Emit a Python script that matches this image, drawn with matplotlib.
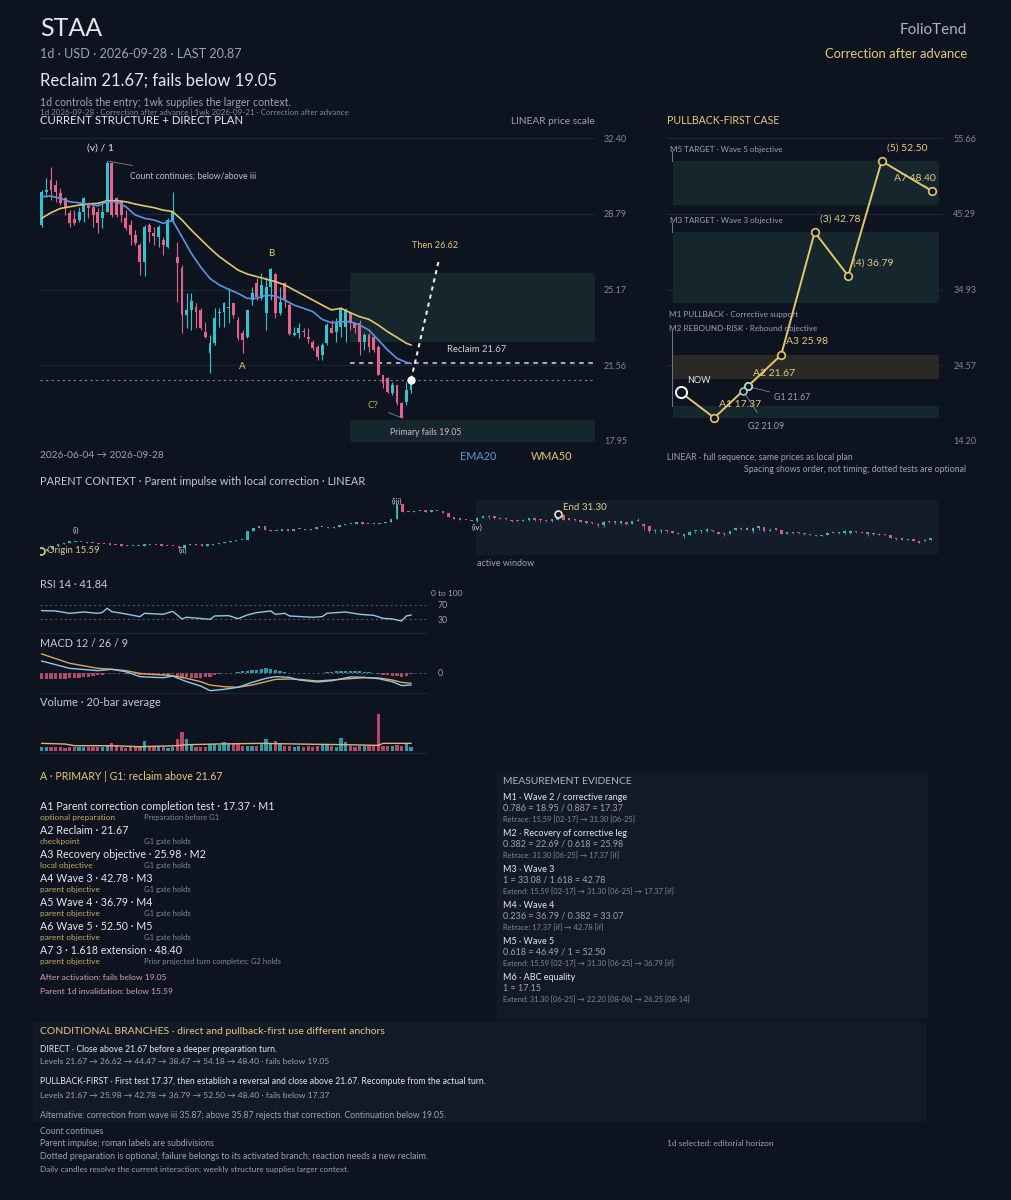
import numpy as np
import matplotlib
matplotlib.use("Agg")
from matplotlib import pyplot as plt
from matplotlib.patches import Rectangle

plt.rcParams['font.family'] = ['Lato', 'DejaVu Sans']

# colours
BG = '#0d141f'
PANEL = '#111a26'
GRID = '#1d2734'
TXT = '#e4e8ee'
DIM = '#9aa4b3'
DIM2 = '#7f8999'
GOLD = '#e8c87c'
GOLD2 = '#c9a963'
CYAN = '#33c2cf'
PINK = '#e5628a'
BLUE = '#5d93e6'
YEL = '#e3c66c'
ZONE = '#16262d'
ZONE_BROWN = '#2a2925'

# ---- daily candles 2026-06-04 -> 2026-09-28 ----
opens = [28.25, 29.84, 30.40, 30.16, 29.76, 29.52, 28.81, 28.52, 28.49, 28.89,
         29.28, 29.12, 28.89, 28.57, 28.89, 31.19, 29.52, 29.36, 28.57, 28.25,
         27.77, 27.30, 26.50, 28.25, 27.85, 27.69, 27.53, 27.22, 28.49, 26.74,
         26.18, 23.96, 24.20, 24.35, 24.20, 23.16, 22.13, 22.61, 24.07, 24.12,
         24.28, 24.51, 23.72, 23.08, 22.92, 24.67, 25.47, 24.75, 24.04, 25.31,
         25.91, 24.04, 25.47, 24.43, 23.00, 23.08, 23.20, 22.92, 22.69, 22.45,
         22.05, 22.61, 23.32, 23.16, 23.40, 23.40, 24.04, 23.56, 23.56, 22.69,
         23.00, 22.92, 22.45, 21.10, 20.94, 20.22, 20.62, 19.74, 19.82, 20.38]
closes = [29.84, 29.92, 29.92, 29.84, 29.28, 29.12, 28.33, 28.33, 28.89, 29.52,
          29.04, 28.73, 28.33, 28.89, 31.19, 28.73, 28.73, 28.73, 28.09, 27.77,
          27.37, 26.50, 28.17, 27.93, 27.72, 28.17, 27.30, 28.49, 28.89, 26.42,
          23.96, 24.20, 24.64, 24.12, 23.32, 22.92, 22.61, 23.80, 24.12, 24.51,
          24.35, 23.96, 22.84, 22.77, 24.20, 25.02, 24.83, 25.39, 25.31, 26.14,
          24.04, 24.59, 24.67, 23.05, 23.08, 23.32, 23.14, 22.80, 22.37, 21.97,
          22.53, 23.48, 23.08, 23.56, 24.28, 24.20, 23.56, 23.32, 22.69, 23.00,
          22.45, 22.29, 21.10, 20.70, 20.30, 20.62, 19.74, 19.05, 20.38, 20.87]
highs = [29.92, 30.47, 31.03, 30.40, 30.00, 29.60, 28.96, 28.96, 29.12, 29.60,
         29.36, 29.36, 29.04, 29.36, 31.30, 31.25, 29.60, 29.44, 28.96, 28.49,
         28.01, 27.37, 28.25, 28.33, 28.17, 28.25, 27.69, 28.57, 29.84, 27.45,
         26.34, 24.99, 24.99, 24.51, 24.28, 23.64, 23.00, 24.28, 24.28, 24.59,
         25.23, 24.51, 23.88, 23.24, 24.20, 25.31, 25.71, 25.94, 25.79, 26.18,
         25.94, 25.31, 25.55, 24.51, 23.40, 23.56, 23.32, 23.32, 22.77, 22.53,
         22.61, 23.56, 23.72, 23.80, 24.35, 24.28, 24.12, 23.64, 23.72, 23.08,
         23.08, 23.00, 22.53, 21.10, 21.02, 20.78, 20.62, 19.82, 20.78, 20.90]
lows = [28.17, 29.60, 29.44, 29.36, 29.20, 28.73, 28.17, 28.25, 28.41, 28.41,
        28.57, 28.17, 27.85, 28.09, 28.89, 28.65, 28.65, 28.41, 28.01, 27.30,
        27.30, 25.86, 25.83, 27.45, 27.30, 27.22, 26.82, 27.14, 28.41, 24.59,
        23.08, 23.32, 23.24, 23.32, 23.24, 22.84, 21.17, 22.53, 23.40, 23.40,
        23.56, 23.80, 22.77, 22.16, 22.84, 24.43, 24.67, 24.67, 23.24, 24.67,
        23.80, 23.96, 24.35, 23.00, 22.98, 22.84, 22.92, 22.61, 22.29, 21.81,
        21.81, 22.53, 23.08, 22.69, 22.92, 22.69, 23.24, 23.08, 22.05, 22.29,
        22.21, 22.21, 21.10, 20.46, 20.22, 20.14, 19.66, 19.05, 19.66, 20.22]

# moving averages read every second bar
ma_idx = list(range(0, 80, 2)) + [79]
ema20 = [29.60, 29.63, 29.52, 29.36, 29.31, 29.25, 29.16, 29.36, 29.36, 29.12,
         28.73, 28.57, 28.49, 28.33, 28.46, 27.69, 26.90, 26.25, 25.70, 25.39,
         25.18, 24.99, 24.75, 24.75, 24.91, 24.86, 24.67, 24.43, 24.28, 24.12,
         23.75, 23.59, 23.64, 23.64, 23.48, 23.24, 22.77, 22.29, 21.89, 21.70, 21.65]
wma50 = [28.57, 28.84, 29.04, 29.12, 29.20, 29.25, 29.28, 29.41, 29.41, 29.36,
         29.25, 29.16, 29.08, 28.96, 28.89, 28.49, 28.01, 27.57, 27.14, 26.74,
         26.42, 26.10, 25.91, 25.79, 25.67, 25.55, 25.39, 25.15, 24.91, 24.67,
         24.43, 24.20, 24.28, 24.07, 23.88, 23.75, 23.48, 23.16, 22.89, 22.61, 22.53]

rsi_idx = [0, 3, 6, 9, 12, 13, 14, 15, 18, 21, 22, 26, 28, 29, 30, 31, 36, 37, 40,
           42, 44, 46, 49, 50, 52, 53, 58, 60, 61, 65, 68, 71, 73, 75, 77, 78, 79]
rsi14 = [54.2, 53.2, 46.7, 50.4, 46.7, 49.5, 60.7, 51.4, 44.9, 37.4, 46.7, 43.9,
         52.3, 42.1, 30.9, 35.6, 30.0, 39.3, 40.2, 31.8, 42.1, 48.6, 53.2, 43.9,
         46.7, 39.3, 35.6, 37.4, 46.7, 50.4, 43.9, 41.1, 32.8, 30.9, 25.3, 39.3, 41.84]

macd_idx = [0, 6, 12, 15, 18, 21, 24, 26, 28, 31, 34, 36, 39, 42, 45, 48, 50, 53,
            55, 59, 62, 66, 69, 72, 75, 77, 79]
macd_line = [0.97, 0.36, 0.17, 0.28, 0.08, -0.33, -0.39, -0.42, -0.28, -0.75, -1.11,
             -1.50, -1.39, -1.22, -0.81, -0.47, -0.33, -0.39, -0.61, -0.78, -0.67,
             -0.36, -0.39, -0.50, -0.75, -1.08, -1.03]
signal_line = [1.56, 0.78, 0.36, 0.28, 0.17, -0.06, -0.15, -0.19, -0.25, -0.47, -0.75,
               -1.03, -1.17, -1.22, -1.03, -0.75, -0.56, -0.53, -0.56, -0.69, -0.61,
               -0.50, -0.42, -0.44, -0.61, -0.81, -0.89]
macd_hist = [-0.56, -0.55, -0.55, -0.53, -0.52, -0.50, -0.48, -0.45, -0.42, -0.38,
             -0.33, -0.28, -0.22, -0.18, -0.02, 0.00, -0.03, -0.05, -0.08, -0.12,
             -0.15, -0.18, -0.18, -0.20, -0.20, -0.18, -0.18, -0.16, -0.12, -0.25,
             -0.35, -0.38, -0.42, -0.45, -0.45, -0.40, -0.35, -0.22, -0.10, -0.04,
             -0.02, 0.00, 0.02, 0.10, 0.16, 0.20, 0.25, 0.30, 0.38, 0.30,
             0.22, 0.12, 0.05, -0.03, -0.05, -0.05, -0.06, -0.06, -0.05, -0.03,
             -0.02, 0.02, 0.06, 0.10, 0.14, 0.16, 0.16, 0.14, 0.10, 0.06,
             0.02, -0.04, -0.10, -0.16, -0.22, -0.26, -0.30, -0.32, -0.25, -0.14]

volume_k = [230, 260, 240, 210, 230, 200, 220, 230, 250, 210, 230, 250, 220, 240,
            330, 480, 370, 220, 200, 230, 210, 250, 600, 230, 210, 240, 220, 200,
            250, 780, 1190, 760, 370, 260, 250, 270, 430, 430, 370, 585, 480, 520,
            480, 320, 330, 300, 320, 520, 760, 430, 630, 430, 300, 330, 250, 280,
            260, 290, 250, 300, 370, 400, 280, 260, 820, 585, 320, 260, 320, 300,
            330, 310, 2380, 320, 310, 320, 340, 330, 520, 260]
vol_avg_idx = [0, 5, 7, 15, 21, 29, 31, 37, 47, 55, 65, 72, 73, 79]
vol_avg_k = [477, 433, 325, 325, 260, 325, 390, 433, 477, 433, 390, 347, 477, 477]

# parent context: daily closes 2026-02-17 -> 2026-06-03 (before the active window)
pre_closes = [15.59, 16.4, 17.5, 18.6, 19.2, 19.4, 19.6, 19.4, 19.0, 19.0,
              18.6, 18.4, 18.3, 18.0, 17.8, 17.7, 17.7, 17.9, 18.1, 18.3,
              18.0, 17.9, 17.6, 17.5, 17.0, 18.2, 18.4, 18.0, 17.8, 18.0,
              18.4, 18.9, 19.3, 19.8, 20.2, 20.2, 24.0, 25.5, 26.2, 24.5,
              24.2, 24.3, 24.4, 24.3, 25.0, 24.8, 24.6, 25.0, 25.8, 25.9,
              25.5, 25.9, 26.6, 27.0, 27.3, 27.4, 27.3, 27.0, 27.2, 27.5,
              28.0, 29.2, 35.5, 32.4, 32.3, 32.5, 32.7, 32.4, 32.5, 32.9,
              31.8, 30.0, 29.3, 29.0, 28.8, 28.5]
parent_labels = ['(i)', '(ii)', '(iii)', '(iv)']
parent_label_bar = [6, 24, 62, 76]

# pullback-first plan
plan_names = ['NOW', 'A1', 'A2', 'A3', '(3)', '(4)', '(5)', 'A7']
plan_prices = [20.87, 17.37, 21.67, 25.98, 42.78, 36.79, 52.50, 48.40]
g1_price, g2_price = 21.67, 21.09
zones = [(17.37, 18.95, 'M1'), (22.69, 25.98, 'M2'), (33.08, 42.78, 'M3'), (46.49, 52.50, 'M5')]
main_ticks = [17.95, 21.56, 25.17, 28.79, 32.40]
plan_ticks = [14.20, 24.57, 34.93, 45.29, 55.66]
last_price, reclaim, fail_level, then_target = 20.87, 21.67, 19.05, 26.62

plan_rows = [
    ('A1 Parent correction completion test · 17.37 · M1', 'optional preparation', 'Preparation before G1'),
    ('A2 Reclaim · 21.67', 'checkpoint', 'G1 gate holds'),
    ('A3 Recovery objective · 25.98 · M2', 'local objective', 'G1 gate holds'),
    ('A4 Wave 3 · 42.78 · M3', 'parent objective', 'G1 gate holds'),
    ('A5 Wave 4 · 36.79 · M4', 'parent objective', 'G1 gate holds'),
    ('A6 Wave 5 · 52.50 · M5', 'parent objective', 'G1 gate holds'),
    ('A7 3 · 1.618 extension · 48.40', 'parent objective', 'Prior projected turn completes; G2 holds'),
]
evidence = [
    ('M1 · Wave 2 / corrective range', '0.786 = 18.95 / 0.887 = 17.37', 'Retrace: 15.59 [02-17] → 31.30 [06-25]'),
    ('M2 · Recovery of corrective leg', '0.382 = 22.69 / 0.618 = 25.98', 'Retrace: 31.30 [06-25] → 17.37 [if]'),
    ('M3 · Wave 3', '1 = 33.08 / 1.618 = 42.78', 'Extend: 15.59 [02-17] → 31.30 [06-25] → 17.37 [if]'),
    ('M4 · Wave 4', '0.236 = 36.79 / 0.382 = 33.07', 'Retrace: 17.37 [if] → 42.78 [if]'),
    ('M5 · Wave 5', '0.618 = 46.49 / 1 = 52.50', 'Extend: 15.59 [02-17] → 31.30 [06-25] → 36.79 [if]'),
    ('M6 · ABC equality', '1 = 17.15', 'Extend: 31.30 [06-25] → 22.20 [08-06] → 26.25 [08-14]'),
]

W, H = 1011, 1200
fig = plt.figure(figsize=(W / 100, H / 100), dpi=100, facecolor=BG)


def box(l, t, r, b):
    return [l / W, 1 - b / H, (r - l) / W, (b - t) / H]


def txt(x, y, s, **kw):
    kw.setdefault('va', 'center')
    kw.setdefault('color', TXT)
    return fig.text(x / W, 1 - y / H, s, **kw)


def panel(l, t, r, b, color=PANEL):
    fig.patches.append(Rectangle((l / W, 1 - b / H), (r - l) / W, (b - t) / H,
                                 transform=fig.transFigure, color=color, zorder=0))


def clean(ax):
    ax.set_facecolor('none')
    for s in ax.spines.values():
        s.set_visible(False)
    ax.tick_params(left=False, bottom=False, labelbottom=False, labelleft=False)


def candles(ax, x, o, h, l, c, width, minh, wick=0.8, alpha=1.0):
    o, h, l, c = map(np.asarray, (o, h, l, c))
    cols = np.where(c >= o, CYAN, PINK)
    ax.vlines(x, l, h, colors=cols, lw=wick, alpha=alpha)
    ax.bar(x, np.maximum(np.abs(c - o), minh), width, bottom=np.minimum(o, c),
           color=cols, lw=0, alpha=alpha)


# ---------- header ----------
txt(40, 28, 'STAA', fontsize=18)
txt(40, 54, '1d · USD · 2026-09-28 · LAST 20.87', fontsize=9.1, color=DIM)
txt(40, 81, 'Reclaim 21.67; fails below 19.05', fontsize=12)
txt(40, 102, '1d controls the entry; 1wk supplies the larger context.', fontsize=7.6, color=DIM)
txt(40, 112.5, '1d 2026-09-28 · Correction after advance | 1wk 2026-09-21 · Correction after advance',
    fontsize=5.8, color=DIM2)
txt(967, 30, 'FolioTend', fontsize=11, color='#aab3c0', ha='right')
txt(967, 54, 'Correction after advance', fontsize=9.4, color=GOLD, ha='right')
txt(40, 121, 'CURRENT STRUCTURE + DIRECT PLAN', fontsize=8.2)
txt(595, 121, 'LINEAR price scale', fontsize=7.3, color=DIM, ha='right')
txt(667, 121, 'PULLBACK-FIRST CASE', fontsize=7.6, color=GOLD)

# ---------- main chart ----------
n = len(closes)
xi = np.arange(n)
step = 4.675
ax = fig.add_axes(box(40, 138, 595, 441))
clean(ax)
ax.set_xlim(-1.7 / step, (595 - 41.7) / step)
ax.set_ylim(main_ticks[0], main_ticks[-1])
for t in main_ticks:
    ax.axhline(t, color=GRID, lw=0.8, zorder=0)
ax.yaxis.tick_right()
ax.set_yticks(main_ticks, [f'{t:.2f}' for t in main_ticks])
ax.tick_params(axis='y', right=False, labelright=True, labelsize=6.5, labelcolor=DIM2, pad=3)

zone_x0 = 65.9
x_right = ax.get_xlim()[1]
for lo, hi, name in zones:
    if name in ('M1', 'M2'):
        ax.fill_between([zone_x0, x_right], lo, hi, color=ZONE, lw=0, zorder=0.5)
ax.plot([zone_x0, x_right], [reclaim, reclaim], color='#d5dbe3', lw=1.1, dashes=(3, 3), zorder=1)
ax.axhline(last_price, color='#7c8695', lw=0.8, dashes=(2, 3), zorder=1)

candles(ax, xi, opens, highs, lows, closes, 0.62, 0.05)
ax.plot(ma_idx, wma50, color=YEL, lw=1.2, zorder=3)
ax.plot(ma_idx, ema20, color=BLUE, lw=1.2, zorder=3)

proj_bar = 85
ax.plot([n - 1, proj_bar], [last_price, then_target], color='#f2ead2', lw=1.5, dashes=(2, 2), zorder=4)
ax.plot([n - 1], [last_price], 'o', ms=5, color='white', zorder=5)

ann = dict(textcoords='offset pixels', va='center')
ax.annotate('(v) / 1', (14, highs[14]), xytext=(-7, 13), ha='center', fontsize=7.5, color=TXT, **ann)
ax.annotate('Count continues; below/above iii', (14, highs[14]), xytext=(23, -15), ha='left',
            fontsize=6.2, color='#c9bccb',
            arrowprops=dict(arrowstyle='-', color=DIM2, lw=0.6, shrinkA=14, shrinkB=1), **ann)
ax.annotate('B', (49, highs[49]), xytext=(0, 15), ha='center', fontsize=7, color=GOLD, **ann)
ax.annotate('A', (43, lows[43]), xytext=(0, -14), ha='center', fontsize=7, color=GOLD, **ann)
ax.annotate('C?', (77, lows[77]), xytext=(-29, 12), ha='center', fontsize=7, color=GOLD2,
            arrowprops=dict(arrowstyle='-', color=DIM2, lw=0.6, shrinkA=6, shrinkB=1), **ann)
ax.annotate(f'Then {then_target:.2f}', (proj_bar, then_target), xytext=(-4, 14), ha='center',
            fontsize=6.6, color=GOLD, **ann)
ax.annotate(f'Reclaim {reclaim:.2f}', (86.7, reclaim), xytext=(0, 13), ha='left',
            fontsize=6.8, color='#c9ced6', **ann)
ax.annotate(f'Primary fails {fail_level:.2f}', (74.5, fail_level), xytext=(0, -15), ha='left',
            fontsize=6.2, color='#c9bccb', **ann)

txt(40, 455, '2026-06-04 → 2026-09-28', fontsize=7.3, color=DIM)
txt(478, 456, 'EMA20', fontsize=7.8, color=BLUE, ha='center')
txt(552, 456, 'WMA50', fontsize=7.8, color=YEL, ha='center')

# ---------- pullback-first panel ----------
unit = 33.5
axp = fig.add_axes(box(667, 138, 943, 441))
clean(axp)
axp.set_xlim(-(680.7 - 667) / unit, (943 - 680.7) / unit)
axp.set_ylim(plan_ticks[0], plan_ticks[-1])
for t in plan_ticks:
    axp.axhline(t, color=GRID, lw=0.8, zorder=0)
axp.yaxis.tick_right()
axp.set_yticks(plan_ticks, [f'{t:.2f}' for t in plan_ticks])
axp.tick_params(axis='y', right=False, labelright=True, labelsize=6.5, labelcolor=DIM2, pad=4)

zx0, zx1 = -0.24, 7.71
for lo, hi, name in zones:
    axp.fill_between([zx0, zx1], lo, hi, color=ZONE_BROWN if name == 'M2' else ZONE, lw=0, zorder=0.5)

zone_text = {'M5': 'M5 TARGET · Wave 5 objective', 'M3': 'M3 TARGET · Wave 3 objective'}
tick_x = zx0 - 0.03
for lo, hi, name in zones:
    if name in zone_text:
        axp.annotate(zone_text[name], (zx0 - 0.08, hi), xytext=(0, 12), ha='left', fontsize=5.8,
                     color=DIM, **ann)
        axp.plot([tick_x, tick_x], [hi, hi + 1.4], color=DIM2, lw=0.6)
txt(669, 315, 'M1 PULLBACK · Corrective support', fontsize=5.9, color=DIM)
txt(669, 329, 'M2 REBOUND-RISK · Rebound objective', fontsize=5.9, color=DIM)
axp.plot([tick_x, tick_x], [zones[0][1], 29.4], color=DIM2, lw=0.6)

px = np.arange(len(plan_prices), dtype=float)
px[-1] += 0.5
axp.plot(px, plan_prices, color=YEL, lw=1.4, zorder=3)
axp.plot(px[1:], plan_prices[1:], 'o', ms=5.5, mfc=BG, mec=YEL, mew=1.2, zorder=4)
axp.plot(px[0], plan_prices[0], 'o', ms=8, mfc=BG, mec='white', mew=1.4, zorder=4)
g2_x = px[1] + (g2_price - plan_prices[1]) / (plan_prices[2] - plan_prices[1]) * (px[2] - px[1])
axp.plot([g2_x, px[2]], [g2_price, g1_price], 'o', ms=5, mfc=BG, mec='#9fd6c8', mew=1.1, zorder=5)

for name, xv, yv in zip(plan_names, px, plan_prices):
    if name == 'NOW':
        axp.annotate('NOW', (xv, yv), xytext=(6, 12), ha='left', fontsize=6.5, color=TXT,
                     arrowprops=dict(arrowstyle='-', color=DIM2, lw=0.6, shrinkA=3, shrinkB=4), **ann)
    elif name == 'A7':
        axp.annotate(f'{name} {yv:.2f}', (xv, yv), xytext=(-38, 13), ha='left', fontsize=7.5,
                     color=GOLD, arrowprops=dict(arrowstyle='-', color=GOLD2, lw=0.7, shrinkA=0, shrinkB=3),
                     **ann)
    else:
        axp.annotate(f'{name} {yv:.2f}', (xv, yv), xytext=(5, 13), ha='left', fontsize=7.5,
                     color=GOLD, **ann)
axp.annotate(f'G1 {g1_price:.2f}', (px[2], g1_price), xytext=(26, -11), ha='left', fontsize=6.3,
             color=DIM, arrowprops=dict(arrowstyle='-', color=DIM2, lw=0.6, shrinkA=1, shrinkB=3), **ann)
axp.annotate(f'G2 {g2_price:.2f}', (g2_x, g2_price), xytext=(5, -36), ha='left', fontsize=6.3,
             color=DIM, arrowprops=dict(arrowstyle='-', color=DIM2, lw=0.6, shrinkA=6, shrinkB=3), **ann)

txt(667, 457, 'LINEAR · full sequence; same prices as local plan', fontsize=6.3, color=DIM)
txt(966, 470, 'Spacing shows order, not timing; dotted tests are optional', fontsize=6.3, color=DIM,
    ha='right')

# ---------- parent context ----------
txt(40, 482, 'PARENT CONTEXT · Parent impulse with local correction · LINEAR', fontsize=7.9, color='#c5cbd4')
pstep = 5.74
npre = len(pre_closes)
pc = fig.add_axes(box(40, 497, 938, 560))
clean(pc)
pc.set_xlim(-1 / pstep, (938 - 41) / pstep)
pc.set_ylim(11.7, 38.7)
pc.axvspan(npre - 0.2, pc.get_xlim()[1], ymin=0.08, ymax=0.95, color='#131d2a', lw=0, zorder=0)
pre_opens = [pre_closes[0]] + pre_closes[:-1]
candles(pc, np.arange(npre), pre_opens, np.maximum(pre_opens, pre_closes),
        np.minimum(pre_opens, pre_closes), pre_closes, 0.42, 0.55, wick=0.6, alpha=0.9)
candles(pc, npre + xi, opens, highs, lows, closes, 0.42, 0.55, wick=0.6, alpha=0.9)
pc.plot([0], [pre_closes[0]], 'o', ms=5, mfc=BG, mec=GOLD, mew=1.2, zorder=4)
pc.annotate('Origin 15.59', (0, pre_closes[0]), xytext=(6, 0), ha='left', fontsize=6.8, color=GOLD, **ann)
pc.plot([npre + 14], [highs[14]], 'o', ms=5, mfc=BG, mec='#f2e6c0', mew=1.2, zorder=4)
pc.annotate('End 31.30', (npre + 14, highs[14]), xytext=(5, 7), ha='left', fontsize=7, color=GOLD,
            arrowprops=dict(arrowstyle='-', color=DIM2, lw=0.5, shrinkA=1, shrinkB=2), **ann)
label_off = [11, -3, 3, -10]
for lab, b, dy in zip(parent_labels, parent_label_bar, label_off):
    yv = pre_closes[b] if b < npre else closes[b - npre]
    pc.annotate(lab, (b, yv), xytext=(4 if lab == '(ii)' else 0, dy), ha='center', fontsize=6,
                color='#c5cbd4', **ann)
txt(477, 563, 'active window', fontsize=6.5, color=DIM)

# ---------- RSI ----------
sub_xlim = (-1.7 / step, (427 - 41.7) / step)
txt(40, 584, 'RSI 14 · 41.84', fontsize=7.8, color='#c5cbd4')
txt(431, 593, '0 to 100', fontsize=6, color=DIM, ha='left')
ar = fig.add_axes(box(40, 597, 427, 633))
clean(ar)
ar.set_xlim(*sub_xlim)
ar.set_ylim(-8.3, 92.3)
ar.spines['bottom'].set_visible(True)
ar.spines['bottom'].set_color(GRID)
for lv in (30, 70):
    ar.axhline(lv, color='#566172', lw=0.7, dashes=(2, 3))
ar.yaxis.tick_right()
ar.set_yticks([30, 70], ['30', '70'])
ar.tick_params(axis='y', right=False, labelright=True, labelsize=6.3, labelcolor=DIM, pad=4)
ar.plot(rsi_idx, rsi14, color='#8ec8ea', lw=1.0)

# ---------- MACD ----------
txt(40, 643, 'MACD 12 / 26 / 9', fontsize=7.8, color='#c5cbd4')
am = fig.add_axes(box(40, 650, 427, 693.3))
clean(am)
am.set_xlim(*sub_xlim)
am.set_ylim(-1.72, 1.89)
am.spines['bottom'].set_visible(True)
am.spines['bottom'].set_color(GRID)
am.axhline(0, color='#566172', lw=0.7, dashes=(2, 3))
am.yaxis.tick_right()
am.set_yticks([0], ['0'])
am.tick_params(axis='y', right=False, labelright=True, labelsize=6.3, labelcolor=DIM, pad=4)
hist = np.asarray(macd_hist)
am.bar(xi, hist, 0.72, color=np.where(hist >= 0, '#2a9aa6', '#b8486a'), lw=0)
am.plot(macd_idx, signal_line, color='#e3a35c', lw=1.0)
am.plot(macd_idx, macd_line, color='#8ec8ea', lw=1.0)

# ---------- volume ----------
txt(40, 703, 'Volume · 20-bar average', fontsize=8, color='#c5cbd4')
av = fig.add_axes(box(40, 710, 427, 753.3))
clean(av)
av.set_xlim(*sub_xlim)
av.set_ylim(-169, 2645)
av.spines['bottom'].set_visible(True)
av.spines['bottom'].set_color(GRID)
vcol = np.where(np.asarray(closes) >= np.asarray(opens), '#2a9aa6', '#b8486a')
av.bar(xi, volume_k, 0.7, color=vcol, lw=0)
av.plot(vol_avg_idx, vol_avg_k, color='#d8b57a', lw=1.0)

# ---------- plan list ----------
txt(40, 776, 'A · PRIMARY | G1: reclaim above 21.67', fontsize=7.6, color=GOLD)
for k, (title, role, note) in enumerate(plan_rows):
    y = 806 + 24 * k
    txt(40, y, title, fontsize=7.7)
    txt(40, y + 11.3, role, fontsize=6, color=GOLD2)
    txt(144, y + 11.3, note, fontsize=5.5, color=DIM2)
txt(40, 977, 'After activation: fails below 19.05', fontsize=6.1, color='#d6a3b5')
txt(40, 991.5, 'Parent 1d invalidation: below 15.59', fontsize=6.1, color='#d6a3b5')

# ---------- measurement evidence ----------
panel(497, 772, 927, 1018)
txt(503, 781, 'MEASUREMENT EVIDENCE', fontsize=7.4, color='#aeb6c3')
for k, (title, formula, detail) in enumerate(evidence):
    y = 797.7 + 36 * k
    txt(503, y, title, fontsize=6.5)
    txt(503, y + 10.7, formula, fontsize=6.5, color=DIM)
    txt(503, y + 21.5, detail, fontsize=5.4, color=DIM2)

# ---------- conditional branches ----------
panel(33, 1022, 925, 1121)
txt(40, 1032, 'CONDITIONAL BRANCHES · direct and pullback-first use different anchors', fontsize=7.5, color=GOLD)
txt(40, 1049, 'DIRECT · Close above 21.67 before a deeper preparation turn.', fontsize=6.2)
txt(40, 1062, 'Levels 21.67 → 26.62 → 44.47 → 38.47 → 54.18 → 48.40 · fails below 19.05', fontsize=6.1, color=DIM)
txt(40, 1082, 'PULLBACK-FIRST · First test 17.37, then establish a reversal and close above 21.67. '
    'Recompute from the actual turn.', fontsize=6.2)
txt(40, 1095, 'Levels 21.67 → 25.98 → 42.78 → 36.79 → 52.50 → 48.40 · fails below 17.37', fontsize=6.1, color=DIM)
txt(40, 1116, 'Alternative: correction from wave iii 35.87; above 35.87 rejects that correction. '
    'Continuation below 19.05.', fontsize=6.2, color=DIM)
txt(40, 1131, 'Count continues', fontsize=6.3, color=DIM)
txt(40, 1144, 'Parent impulse; roman labels are subdivisions', fontsize=6.3, color=DIM)
txt(667, 1144, '1d selected: editorial horizon', fontsize=6, color=DIM)
txt(40, 1156.5, 'Dotted preparation is optional; failure belongs to its activated branch; '
    'reaction needs a new reclaim.', fontsize=6.4, color=DIM)
txt(40, 1169, 'Daily candles resolve the current interaction; weekly structure supplies larger context.',
    fontsize=5.9, color=DIM)

fig.savefig('out.png', dpi=100, facecolor=BG)
